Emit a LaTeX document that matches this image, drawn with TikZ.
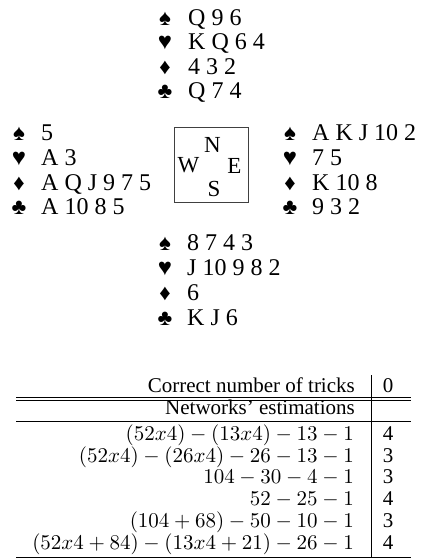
\documentclass[tikz,border=0pt]{standalone}
\usepackage{fontspec}
\setmainfont{Liberation Serif}
\usepackage{pifont}
\usepackage{graphicx}
\tikzset{
  cardtxt/.style={anchor=base west, inner sep=0pt, font=\fontsize{24}{24}\selectfont},
  suit/.style={anchor=base, inner sep=0pt, font=\fontsize{19}{19}\selectfont},
  dirtxt/.style={anchor=base, inner sep=0pt, font=\fontsize{23}{23}\selectfont},
  tabl/.style={anchor=base east, inner sep=0pt, font=\fontsize{21}{21}\selectfont},
  tabm/.style={anchor=base east, inner sep=0pt, text height=14pt, text depth=3pt},
  tabr/.style={anchor=base, inner sep=0pt, font=\fontsize{21}{21}\selectfont},
  rulel/.style={line width=0.7pt},
}
\newcommand{\Sp}{\ding{171}}
\newcommand{\He}{\ding{170}}
\newcommand{\Di}{\ding{169}}
\newcommand{\Cl}{\ding{168}}
\newcommand{\MM}[1]{\scalebox{2.1}{$#1$}}
\begin{document}
\begin{tikzpicture}[x=1pt,y=-1pt]
\useasboundingbox (0,0) rectangle (421,559);
% North
\node[suit] (ns) at (165,26) {\Sp};  \node[cardtxt] (nst) at (188,26) {Q 9 6};
\node[suit] (nh) at (165,50) {\He};  \node[cardtxt] (nht) at (188,50) {K Q 6 4};
\node[suit] (nd) at (165,75) {\Di};  \node[cardtxt] (ndt) at (188,75) {4 3 2};
\node[suit] (nc) at (165,99) {\Cl};  \node[cardtxt] (nct) at (188,99) {Q 7 4};
% West
\node[suit] (ws) at (19,140) {\Sp};  \node[cardtxt] (wst) at (41,140) {5};
\node[suit] (wh) at (19,165) {\He};  \node[cardtxt] (wht) at (41,165) {A 3};
\node[suit] (wd) at (19,190) {\Di};  \node[cardtxt] (wdt) at (41,190) {A Q J 9 7 5};
\node[suit] (wc) at (19,214) {\Cl};  \node[cardtxt] (wct) at (41,214) {A 10 8 5};
% East
\node[suit] (es) at (290,140) {\Sp};  \node[cardtxt] (est) at (312,140) {A K J 10 2};
\node[suit] (eh) at (290,165) {\He};  \node[cardtxt] (eht) at (312,165) {7 5};
\node[suit] (ed) at (290,190) {\Di};  \node[cardtxt] (edt) at (312,190) {K 10 8};
\node[suit] (ec) at (290,214) {\Cl};  \node[cardtxt] (ect) at (312,214) {9 3 2};
% South
\node[suit] (ss) at (165,250) {\Sp};  \node[cardtxt] (sst) at (187,250) {8 7 4 3};
\node[suit] (sh) at (165,275) {\He};  \node[cardtxt] (sht) at (187,275) {J 10 9 8 2};
\node[suit] (sd) at (165,300) {\Di};  \node[cardtxt] (sdt) at (187,300) {6};
\node[suit] (sc) at (165,325) {\Cl};  \node[cardtxt] (sct) at (187,325) {K J 6};
% compass box
\draw[line width=0.8pt, black!75] (174,127) rectangle (248,202);
\node[dirtxt] (dN) at (212.5,152) {N};
\node[dirtxt] (dW) at (188.5,172) {W};
\node[dirtxt] (dE) at (234.5,173) {E};
\node[dirtxt] (dS) at (214,196.5) {S};
% table
\node[tabl] (h1) at (355,392) {Correct number of tricks};
\node[tabr] (h1v) at (388,392) {0};
\draw[rulel] (16,397.3) -- (411,397.3);
\draw[rulel] (16,400.5) -- (411,400.5);
\node[tabl] (h2) at (355,414) {Networks’ estimations};
\draw[rulel] (16,421.5) -- (411,421.5);
\node[tabm] (r1) at (354,440) {\MM{(52x4)-(13x4)-13-1}};   \node[tabr] (r1v) at (388,440) {4};
\node[tabm] (r2) at (354,462) {\MM{(52x4)-(26x4)-26-13-1}}; \node[tabr] (r2v) at (388,462) {3};
\node[tabm] (r3) at (354,483.5) {\MM{104-30-4-1}};        \node[tabr] (r3v) at (388,483.5) {3};
\node[tabm] (r4) at (354,505) {\MM{52-25-1}};             \node[tabr] (r4v) at (388,505) {4};
\node[tabm] (r5) at (354,527) {\MM{(104+68)-50-10-1}};    \node[tabr] (r5v) at (388,527) {3};
\node[tabm] (r6) at (354,549) {\MM{(52x4+84)-(13x4+21)-26-1}}; \node[tabr] (r6v) at (388,549) {4};
\draw[rulel] (16,557) -- (411,557);
\draw[rulel] (371,375) -- (371,557);
\end{tikzpicture}
\end{document}
